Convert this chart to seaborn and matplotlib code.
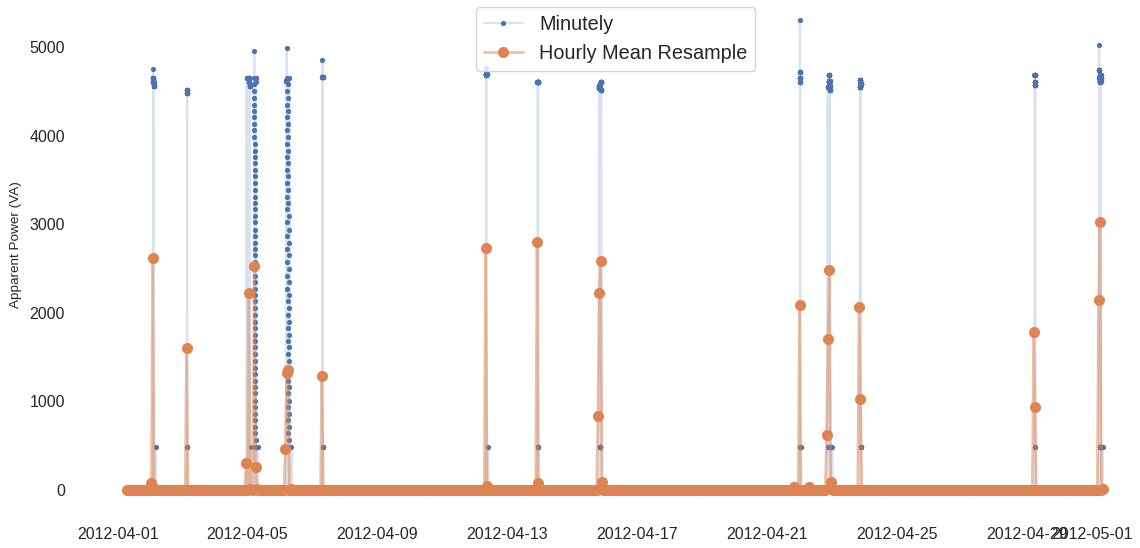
import numpy as np
import pandas as pd
import matplotlib
matplotlib.use("Agg")
import matplotlib.pyplot as plt
import seaborn as sns

# Period covered by the meter (one reading per minute)
period_start = "2012-04-01 07:00"
period_end = "2012-05-01 08:59"

# Readings while the appliance winds down in its variable-power mode (VA)
sweep_levels = [
    4650, 4580, 4500, 4430, 4350, 4280, 4210, 4130, 4060, 3980, 3910, 3830,
    3760, 3690, 3610, 3540, 3460, 3390, 3310, 3240, 3170, 3090, 3020, 2940,
    2870, 2790, 2720, 2650, 2570, 2500, 2420, 2350, 2270, 2200, 2130, 2050,
    1980, 1900, 1830, 1750, 1680, 1610, 1530, 1460, 1380, 1310, 1230, 1160,
    1090, 1010, 940, 860, 790, 710, 640, 560, 490,
]

# Appliance runs: start time, the power levels (VA) passed through,
# minutes spent on each level, idle minutes after each level, and how
# often that pattern repeats.
run_start = [
    "2012-04-02 01:00", "2012-04-02 02:10", "2012-04-02 04:10",
    "2012-04-03 03:15",
    "2012-04-04 23:20", "2012-04-05 01:10", "2012-04-05 02:30",
    "2012-04-05 05:00", "2012-04-05 05:01", "2012-04-05 06:10", "2012-04-05 07:40",
    "2012-04-06 04:30", "2012-04-06 05:00", "2012-04-06 05:01",
    "2012-04-06 06:00", "2012-04-06 06:56", "2012-04-06 08:30",
    "2012-04-07 07:20",
    "2012-04-12 08:10", "2012-04-12 09:00", "2012-04-12 09:50",
    "2012-04-13 22:15", "2012-04-13 23:00",
    "2012-04-15 19:40", "2012-04-15 20:00", "2012-04-15 21:00", "2012-04-15 22:00",
    "2012-04-21 20:00", "2012-04-22 00:10", "2012-04-22 07:00",
    "2012-04-22 20:40", "2012-04-22 21:30", "2012-04-22 22:00",
    "2012-04-22 23:00", "2012-04-23 00:10",
    "2012-04-23 20:20", "2012-04-23 21:00",
    "2012-04-29 05:35", "2012-04-29 06:00",
    "2012-05-01 05:25", "2012-05-01 06:00", "2012-05-01 06:35", "2012-05-01 08:10",
]
run_levels = [
    [80], [4750, 4650, 4600, 4560], [480],
    [4520, 4480, 480],
    [4650], [4650, 4600, 4560], [480],
    [4950], sweep_levels, [4650, 4600, 480], [480],
    [4620, 0], [4990], sweep_levels[0::2],
    sweep_levels[1::2], [4650], [480],
    [4850, 4660, 480],
    [4760, 4680, 4700], [40], [480],
    [4610, 4600, 480], [80],
    [4560], [4540, 4580, 480], [4600, 4520], [90],
    [35], [5300, 4720, 4650, 4600, 480], [35],
    [4550, 480], [4680, 4600], [4620, 4560, 4510, 480],
    [90], [480],
    [4630, 4550], [4580, 480],
    [4680, 4600], [4570, 480],
    [5020, 4740, 4650, 4600, 480], [4680, 4620, 480], [4650, 480], [480],
]
run_minutes = [
    [60], [1, 12, 12, 9], [1],
    [11, 10, 4],
    [4], [10, 10, 9], [1],
    [1], 1, [2, 1, 3], [1],
    [2, 5], [1], 1,
    1, [2], [1],
    [1, 15, 5],
    [1, 17, 17], [60], [1],
    [18, 18, 5], [60],
    [11], [14, 14, 12], [17, 17], [60],
    [60], [1, 9, 9, 7, 7], [60],
    [8, 2], [11, 11], [11, 11, 10, 6],
    [60], [1],
    [14, 13], [13, 4],
    [12, 11], [12, 3],
    [1, 9, 9, 8, 5], [3, 3, 1], [8, 5], [1],
]
run_idle = [
    0, 0, 0,
    0,
    0, 0, 0,
    0, 0, 0, 0,
    0, 0, 1,
    1, 0, 0,
    0,
    0, 0, 0,
    0, 0,
    0, 0, 0, 0,
    0, 0, 0,
    0, 0, 0,
    0, 0,
    0, 0,
    0, 0,
    0, 0, 0, 0,
]
run_repeat = [
    1, 1, 1,
    1,
    1, 1, 1,
    1, 1, 1, 1,
    3, 1, 1,
    1, 1, 1,
    1,
    1, 1, 1,
    1, 1,
    1, 1, 1, 1,
    1, 1, 1,
    1, 1, 1,
    1, 1,
    1, 1,
    1, 1,
    1, 5, 1, 1,
]

# Minutely apparent power, zero while the appliance is off
stamps = pd.date_range(period_start, period_end, freq="min")
minutely = pd.Series(0.0, index=stamps)
for start, levels, mins, idle, reps in zip(run_start, run_levels, run_minutes,
                                           run_idle, run_repeat):
    mins = np.broadcast_to(mins, len(levels))
    pattern = []
    for level, m in zip(levels, mins):
        pattern += [level] * int(m) + [0] * idle
    pattern = np.array(pattern * reps, dtype=float)
    i0 = stamps.get_loc(pd.Timestamp(start))
    minutely.iloc[i0:i0 + len(pattern)] = pattern

hourly = minutely.resample("h").mean()

sns.set_theme(style="white")
plt.rcParams["font.family"] = ["Liberation Sans", "DejaVu Sans"]

blue, orange = sns.color_palette("deep")[:2]

fig = plt.figure(figsize=(11.4, 5.48), dpi=100)
ax = fig.add_axes([0.0686, 0.063, 0.9427, 0.9425])

sns.lineplot(x=minutely.index, y=minutely.values, ax=ax, estimator=None,
             color=(*blue, 0.2), linewidth=1.5, marker=".", markersize=7.5,
             markerfacecolor=blue, markeredgecolor=blue, markeredgewidth=0,
             label="Minutely")
sns.lineplot(x=hourly.index, y=hourly.values, ax=ax, estimator=None,
             color=(*orange, 0.5), linewidth=2.0, marker="o", markersize=8,
             markerfacecolor=orange, markeredgecolor=orange, markeredgewidth=0,
             label="Hourly Mean Resample")

ax.set_xlabel("")
ax.set_ylabel("Apparent Power (VA)", fontsize=9.7)
ax.yaxis.set_label_coords(-0.052, 0.52)
ax.tick_params(labelsize=11.5)
sns.despine(ax=ax, left=True, bottom=True)
ax.legend(loc="upper center", fontsize=14.3)

fig.savefig("out.png", dpi=100)
